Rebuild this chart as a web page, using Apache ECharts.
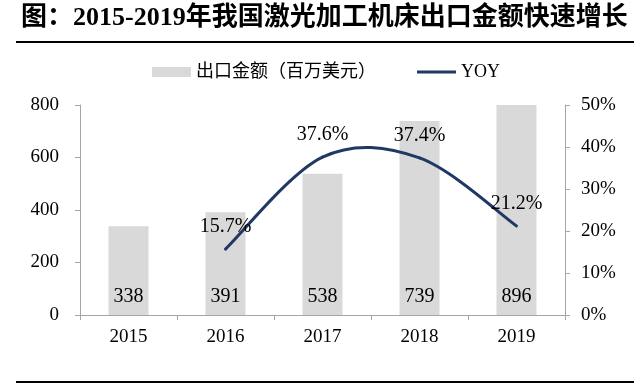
<!DOCTYPE html>
<html>
<head>
<meta charset="utf-8">
<script src="https://cdn.jsdelivr.net/npm/echarts@6/dist/echarts.min.js"></script>
<style>html,body{margin:0;padding:0;background:#fff;}#c{width:640px;height:384px;}</style>
</head>
<body>
<div id="c"></div>
<script>
var titleText = '图：2015-2019年我国激光加工机床出口金额快速增长';
var categories = ['2015', '2016', '2017', '2018', '2019'];
var exportValues = [338, 391, 538, 739, 896];
var yoyValues = ['-', 15.7, 37.6, 37.4, 21.2];
var barName = '出口金额（百万美元）';
var lineName = 'YOY';
var leftTicks = { min: 0, max: 800, interval: 200 };
var rightTicks = { min: 0, max: 50, interval: 10 };

var serif = '"Liberation Serif", "Times New Roman", "Noto Sans CJK SC", serif';
var lineColor = '#1f3864';
var yoyData = categories.map(function (c, i) { return [c, yoyValues[i]]; });

function renderYoy(params, api) {
  var n = yoyValues.length;
  function valid(k) { return k >= 0 && k < n && !isNaN(api.value(1, k)); }
  function pt(k) { return api.coord([k, api.value(1, k)]); }
  var i = params.dataIndex;
  if (!valid(i)) return null;
  var children = [];
  var p2 = pt(i);
  if (valid(i - 1)) {
    var p1 = pt(i - 1);
    var p0 = valid(i - 2) ? pt(i - 2) : p1;
    var p3 = valid(i + 1) ? pt(i + 1) : p2;
    children.push({
      type: 'bezierCurve',
      shape: {
        x1: p1[0], y1: p1[1], x2: p2[0], y2: p2[1],
        cpx1: p1[0] + (p2[0] - p0[0]) / 6, cpy1: p1[1] + (p2[1] - p0[1]) / 6,
        cpx2: p2[0] - (p3[0] - p1[0]) / 6, cpy2: p2[1] - (p3[1] - p1[1]) / 6
      },
      style: { stroke: lineColor, lineWidth: 3, fill: null, lineCap: 'round' },
      z2: 5
    });
  }
  children.push({
    type: 'text', x: p2[0], y: p2[1] - 12, z2: 10,
    style: { text: api.value(1, i) + '%', font: '20px ' + serif, fill: '#000', align: 'center', verticalAlign: 'bottom' }
  });
  return { type: 'group', children: children };
}

var chart = echarts.init(document.getElementById('c'), null, { renderer: 'canvas' });
chart.setOption({
  animation: false,
  backgroundColor: '#ffffff',
  graphic: [
    { type: 'text', left: 21, top: 5, style: { text: titleText, font: 'bold 26px ' + serif, fill: '#000' } },
    { type: 'line', shape: { x1: 16, y1: 42, x2: 634, y2: 42 }, style: { stroke: '#000', lineWidth: 2 } },
    { type: 'line', shape: { x1: 16, y1: 382, x2: 634, y2: 382 }, style: { stroke: '#000', lineWidth: 2 } }
  ],
  legend: {
    left: 147, top: 58,
    itemWidth: 39, itemHeight: 10, itemGap: 41,
    textStyle: { fontFamily: serif, fontSize: 18, color: '#000' },
    data: [
      { name: barName, icon: 'rect' },
      { name: lineName, icon: 'path://M0,0M39,10M0,3.5H39V6.5H0Z', itemStyle: { color: lineColor } }
    ]
  },
  grid: { left: 80, right: 75, top: 105, bottom: 69, containLabel: false },
  xAxis: {
    type: 'category', data: categories,
    axisLine: { lineStyle: { color: '#a6a6a6', width: 1 } },
    axisTick: { show: true, length: 5, alignWithLabel: false, lineStyle: { color: '#a6a6a6' } },
    axisLabel: { fontFamily: serif, fontSize: 19, color: '#000', margin: 13 }
  },
  yAxis: [
    {
      type: 'value', min: leftTicks.min, max: leftTicks.max, interval: leftTicks.interval,
      axisLine: { show: true, lineStyle: { color: '#a6a6a6' } },
      axisTick: { show: true, length: 5, lineStyle: { color: '#a6a6a6' } },
      splitLine: { show: false },
      axisLabel: { fontFamily: serif, fontSize: 19, color: '#000', margin: 21 }
    },
    {
      type: 'value', min: rightTicks.min, max: rightTicks.max, interval: rightTicks.interval, position: 'right',
      axisLine: { show: true, lineStyle: { color: '#a6a6a6' } },
      axisTick: { show: true, length: 5, lineStyle: { color: '#a6a6a6' } },
      splitLine: { show: false },
      axisLabel: { fontFamily: serif, fontSize: 19, color: '#000', margin: 16, formatter: '{value}%' }
    }
  ],
  series: [
    {
      name: barName, type: 'bar', data: exportValues, barWidth: 40, clip: true,
      itemStyle: { color: '#d9d9d9' },
      label: { show: true, position: 'insideBottom', distance: 8, fontFamily: serif, fontSize: 20, color: '#000' }
    },
    {
      name: lineName, type: 'custom', yAxisIndex: 1, data: yoyData,
      encode: { x: 0, y: 1 },
      itemStyle: { color: lineColor },
      renderItem: renderYoy
    }
  ]
});
</script>
</body>
</html>
